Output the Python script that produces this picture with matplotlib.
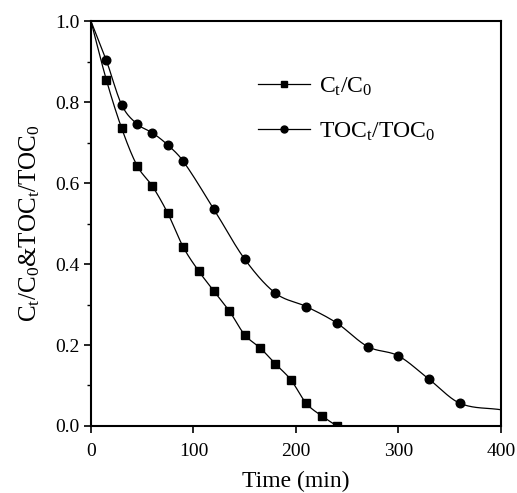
import matplotlib
matplotlib.use("Agg")
import matplotlib.pyplot as plt
import numpy as np

plt.rcParams['font.family'] = ['Liberation Serif', 'DejaVu Serif']
plt.rcParams['mathtext.fontset'] = 'custom'
plt.rcParams['mathtext.rm'] = 'Liberation Serif'
plt.rcParams['mathtext.it'] = 'Liberation Serif'

# data
time_c = [0, 15, 30, 45, 60, 75, 90, 105, 120, 135, 150, 165, 180, 195, 210, 225, 240]
ratio_c = [1.0, 0.855, 0.735, 0.643, 0.592, 0.525, 0.442, 0.383, 0.333, 0.284, 0.225,
           0.193, 0.153, 0.114, 0.056, 0.025, 0.0]

time_toc = [0, 15, 30, 45, 60, 75, 90, 120, 150, 180, 210, 240, 270, 300, 330, 360, 400]
ratio_toc = [1.0, 0.903, 0.793, 0.746, 0.724, 0.694, 0.654, 0.535, 0.412, 0.328, 0.295,
             0.254, 0.196, 0.173, 0.115, 0.056, 0.04]


def smooth(x, y, n=500):
    # catmull-rom style cubic through the points, only for the drawn line
    x = np.asarray(x, float)
    y = np.asarray(y, float)
    h = np.diff(x)
    m = np.zeros_like(y)
    m[1:-1] = (y[2:] - y[:-2]) / (x[2:] - x[:-2])
    m[0] = (y[1] - y[0]) / h[0]
    m[-1] = (y[-1] - y[-2]) / h[-1]
    xs = np.linspace(x[0], x[-1], n)
    idx = np.clip(np.searchsorted(x, xs) - 1, 0, len(x) - 2)
    hh = h[idx]
    t = (xs - x[idx]) / hh
    h00 = 2 * t**3 - 3 * t**2 + 1
    h10 = t**3 - 2 * t**2 + t
    h01 = -2 * t**3 + 3 * t**2
    h11 = t**3 - t**2
    ys = h00 * y[idx] + h10 * hh * m[idx] + h01 * y[idx + 1] + h11 * hh * m[idx + 1]
    return xs, ys


fig = plt.figure(figsize=(5.17, 4.93), dpi=100)
ax = fig.add_axes([0.176, 0.136, 0.793, 0.821])

xs, ys = smooth(time_c, ratio_c)
ax.plot(xs, ys, color="black", lw=0.9)
ax.plot(time_c[1:], ratio_c[1:], "s", color="black", ms=5.5)

xs, ys = smooth(time_toc, ratio_toc)
ax.plot(xs, ys, color="black", lw=0.9)
ax.plot(time_toc[1:-1], ratio_toc[1:-1], "o", color="black", ms=6.2)

# legend handles
ax.plot([], [], "-s", color="black", lw=0.9, ms=4.5, label=r"C$_\mathrm{t}$/C$_\mathrm{0}$")
ax.plot([], [], "-o", color="black", lw=0.9, ms=5, label=r"TOC$_\mathrm{t}$/TOC$_\mathrm{0}$")
h, l = ax.get_legend_handles_labels()
ax.legend(h, l, loc="upper left", bbox_to_anchor=(0.355, 0.918), frameon=False,
          fontsize=17, handlelength=2.2, handletextpad=0.4, labelspacing=0.95)

ax.set_xlim(0, 400)
ax.set_ylim(0, 1.0)
ax.set_xticks([0, 100, 200, 300, 400])
ax.set_yticks([0.0, 0.2, 0.4, 0.6, 0.8, 1.0])
ax.set_yticks(np.arange(0.1, 1.0, 0.2), minor=True)
ax.tick_params(axis="both", which="major", direction="out", length=5, width=1.2, labelsize=14)
ax.tick_params(axis="x", which="major", pad=7)
ax.tick_params(axis="y", which="minor", direction="out", length=3, width=1)
ax.yaxis.set_major_formatter(matplotlib.ticker.FormatStrFormatter("%.1f"))
for s in ax.spines.values():
    s.set_linewidth(1.5)

ax.set_xlabel("Time (min)", fontsize=17, labelpad=8)
ax.set_ylabel(r"C$_\mathrm{t}$/C$_\mathrm{0}$&TOC$_\mathrm{t}$/TOC$_\mathrm{0}$", fontsize=18, labelpad=9)

plt.savefig("out.png", dpi=100)
